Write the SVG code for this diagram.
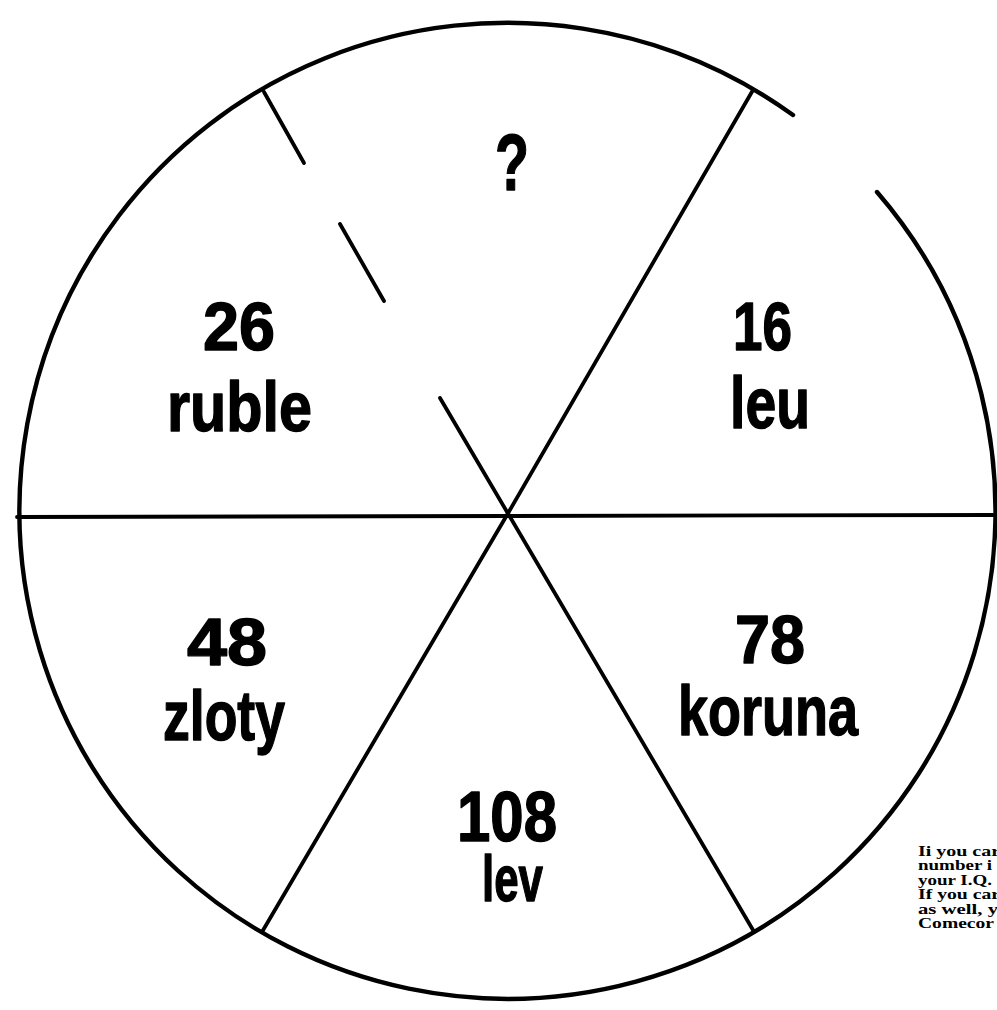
<svg xmlns="http://www.w3.org/2000/svg" width="997" height="1010" viewBox="0 0 997 1010">
<style>
.ln{fill:none;stroke:#000;stroke-width:3.8;stroke-linecap:round;stroke-linejoin:round}
.rim{fill:none;stroke:#000;stroke-width:4.4;stroke-linecap:round}
.big{font-family:"Liberation Sans",Arial,sans-serif;font-weight:bold;fill:#000;stroke:#000;stroke-width:1.4;stroke-linejoin:round}
.note{font-family:"Liberation Serif","Times New Roman",serif;font-weight:bold;font-size:14px;fill:#000}
</style>
<rect width="997" height="1010" fill="#fff"/>
<g id="connectors">
<path class="rim" d="M877 192 A488 488 0 1 1 793 115"/>
<path class="ln" d="M17 517 L993 515"/>
<path class="ln" d="M753 90 L507 515 L262 932"/>
<path class="ln" d="M440 398 L753 930"/>
<path class="ln" d="M264 92 L304 163"/>
<path class="ln" d="M340 224 L384 301"/>
</g>
<g id="node-top"><text class="big" x="495" y="190" font-size="80" textLength="34" lengthAdjust="spacingAndGlyphs">?</text></g>
<g id="node-ruble">
<text class="big" x="203" y="350" font-size="68" textLength="72" lengthAdjust="spacingAndGlyphs">26</text>
<text class="big" x="167" y="431" font-size="70" textLength="145" lengthAdjust="spacingAndGlyphs">ruble</text>
</g>
<g id="node-leu">
<text class="big" x="733" y="350" font-size="68" textLength="59" lengthAdjust="spacingAndGlyphs">16</text>
<text class="big" x="730" y="428" font-size="72" textLength="80" lengthAdjust="spacingAndGlyphs">leu</text>
</g>
<g id="node-zloty">
<text class="big" x="187" y="665" font-size="66" textLength="80" lengthAdjust="spacingAndGlyphs">48</text>
<text class="big" x="163" y="740" font-size="70" textLength="122" lengthAdjust="spacingAndGlyphs">zloty</text>
</g>
<g id="node-koruna">
<text class="big" x="735" y="663" font-size="68" textLength="70" lengthAdjust="spacingAndGlyphs">78</text>
<text class="big" x="678" y="735" font-size="70" textLength="180" lengthAdjust="spacingAndGlyphs">koruna</text>
</g>
<g id="node-lev">
<text class="big" x="457" y="841" font-size="70" textLength="100" lengthAdjust="spacingAndGlyphs">108</text>
<text class="big" x="482" y="901" font-size="64" textLength="61" lengthAdjust="spacingAndGlyphs">lev</text>
</g>
<g id="note">
<text class="note" x="918" y="856" textLength="82" lengthAdjust="spacingAndGlyphs">Ii you car</text>
<text class="note" x="918" y="870" textLength="74" lengthAdjust="spacingAndGlyphs">number i</text>
<text class="note" x="918" y="885" textLength="74" lengthAdjust="spacingAndGlyphs">your I.Q.</text>
<text class="note" x="918" y="899" textLength="82" lengthAdjust="spacingAndGlyphs">If you car</text>
<text class="note" x="918" y="914" textLength="80" lengthAdjust="spacingAndGlyphs">as well, y</text>
<text class="note" x="918" y="928" textLength="76" lengthAdjust="spacingAndGlyphs">Comecor</text>
</g>
</svg>
